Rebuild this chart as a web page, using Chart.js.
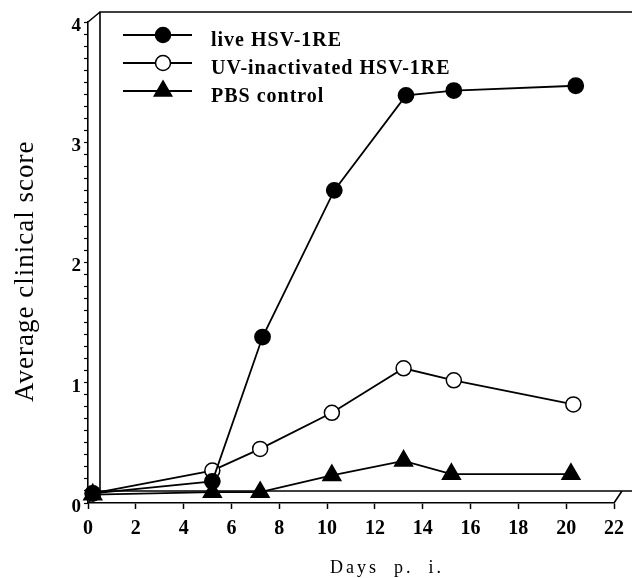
<!DOCTYPE html>
<html>
<head>
  <title>Average clinical score</title>
  <script src="https://cdn.jsdelivr.net/npm/chart.js"></script>
  <style>
    body { margin: 0; background: #fff; }
  </style>
</head>
<body>
  <canvas id="scoreChart" width="632" height="578"></canvas>

  <script>
    // values (days p.i. / mean score)
    const liveDays = [0.2, 5.2, 7.3, 10.3, 13.3, 15.3, 20.4];
    const liveScore = [0.08, 0.18, 1.38, 2.6, 3.39, 3.43, 3.47];
    const uvDays = [0.2, 5.2, 7.2, 10.2, 13.2, 15.3, 20.3];
    const uvScore = [0.08, 0.27, 0.45, 0.75, 1.12, 1.02, 0.82];
    const pbsDays = [0.2, 5.2, 7.2, 10.2, 13.2, 15.2, 20.2];
    const pbsScore = [0.07, 0.09, 0.09, 0.23, 0.35, 0.24, 0.24];
    const seriesNames = ["live HSV-1RE", "UV-inactivated HSV-1RE", "PBS control"];
    const xTitle = "Days  p.  i.";
    const yTitle = "Average clinical score";

    const serif = "'Liberation Serif', 'Times New Roman', serif";
    const pts = (xs, ys) => xs.map((x, i) => ({ x, y: ys[i] }));

    // pseudo-3D box: back wall + floor, like the old plotting package
    const framePlugin = {
      id: "frame",
      beforeDatasetsDraw(chart) {
        const { ctx, chartArea: a } = chart;
        const dx = 12, dy = 12;
        ctx.save();
        ctx.strokeStyle = "#000";
        ctx.lineWidth = 1.6;
        ctx.beginPath();
        ctx.moveTo(a.left + dx, a.bottom - dy);
        ctx.lineTo(a.left + dx, a.top - 10);
        ctx.lineTo(chart.width, a.top - 10);
        ctx.moveTo(a.left, a.top);
        ctx.lineTo(a.left + dx, a.top - 10);
        ctx.moveTo(a.left + dx, a.bottom - dy);
        ctx.lineTo(chart.width, a.bottom - dy);
        ctx.moveTo(a.left, a.bottom);
        ctx.lineTo(a.left + dx, a.bottom - dy);
        ctx.moveTo(a.right, a.bottom);
        ctx.lineTo(a.right + 8, a.bottom - dy);
        ctx.stroke();
        ctx.restore();
      }
    };

    function drawMarker(ctx, ds, x, y) {
      ctx.beginPath();
      if (ds.pointStyle === "triangle") {
        const r = ds.pointRadius;
        ctx.moveTo(x, y - r);
        ctx.lineTo(x + r * 0.87, y + r * 0.5);
        ctx.lineTo(x - r * 0.87, y + r * 0.5);
        ctx.closePath();
      } else {
        ctx.arc(x, y, ds.pointRadius, 0, Math.PI * 2);
      }
      ctx.fillStyle = ds.pointBackgroundColor;
      ctx.fill();
      ctx.lineWidth = 1.5;
      ctx.strokeStyle = "#000";
      ctx.stroke();
    }

    const legendAndTitles = {
      id: "legendAndTitles",
      afterDraw(chart) {
        const ctx = chart.ctx;
        ctx.save();
        // legend
        const rows = [35, 63, 91];
        chart.data.datasets.forEach((ds, i) => {
          const y = rows[i];
          ctx.strokeStyle = "#000";
          ctx.lineWidth = 1.8;
          ctx.beginPath();
          ctx.moveTo(123, y);
          ctx.lineTo(192, y);
          ctx.stroke();
          drawMarker(ctx, ds, 163, y);
          ctx.fillStyle = "#000";
          ctx.font = "bold 20px " + serif;
          ctx.letterSpacing = "1px";
          ctx.textAlign = "left";
          ctx.textBaseline = "alphabetic";
          ctx.fillText(ds.label, 211, y + 11);
        });
        // axis titles
        ctx.font = "18px " + serif;
        ctx.letterSpacing = "3px";
        ctx.fillText(xTitle, 330, 573);
        ctx.translate(33, 402);
        ctx.rotate(-Math.PI / 2);
        ctx.font = "27px " + serif;
        ctx.letterSpacing = "1px";
        ctx.fillText(yTitle, 0, 0);
        ctx.restore();
      }
    };

    const lineStyle = { borderColor: "#000", borderWidth: 1.8, tension: 0, clip: false };

    new Chart(document.getElementById("scoreChart"), {
      type: "line",
      data: {
        datasets: [
          { ...lineStyle, label: seriesNames[0], data: pts(liveDays, liveScore),
            pointStyle: "circle", pointRadius: 7.5, pointBackgroundColor: "#000", pointBorderColor: "#000" },
          { ...lineStyle, label: seriesNames[1], data: pts(uvDays, uvScore),
            pointStyle: "circle", pointRadius: 7.5, pointBackgroundColor: "#fff", pointBorderColor: "#000", pointBorderWidth: 1.5 },
          { ...lineStyle, label: seriesNames[2], data: pts(pbsDays, pbsScore),
            pointStyle: "triangle", pointRadius: 10, pointBackgroundColor: "#000", pointBorderColor: "#000" }
        ]
      },
      options: {
        responsive: false,
        animation: false,
        layout: { padding: { top: 22, right: 8, left: 0, bottom: 0 } },
        plugins: { legend: { display: false }, tooltip: { enabled: false } },
        scales: {
          x: {
            type: "linear",
            min: 0, max: 22,
            afterFit: s => { s.height = 75; },
            grid: { drawOnChartArea: false, tickLength: 6, color: "#000", tickWidth: 1.5 },
            border: { color: "#000", width: 1.6 },
            ticks: { stepSize: 2, color: "#000", padding: 8, maxRotation: 0,
                     font: { family: serif, size: 20, weight: "bold" } }
          },
          y: {
            min: 0, max: 4,
            afterFit: s => { s.width = 88; },
            grid: { drawOnChartArea: false, tickLength: 4, color: "#000", tickWidth: 1.2 },
            border: { color: "#000", width: 1.6 },
            ticks: {
              stepSize: 0.1, autoSkip: false, color: "#000", padding: 3, labelOffset: 4,
              font: { family: serif, size: 19, weight: "bold" },
              callback: v => Math.abs(v - Math.round(v)) < 1e-6 ? Math.round(v) : ""
            }
          }
        }
      },
      plugins: [framePlugin, legendAndTitles]
    });
  </script>
</body>
</html>
